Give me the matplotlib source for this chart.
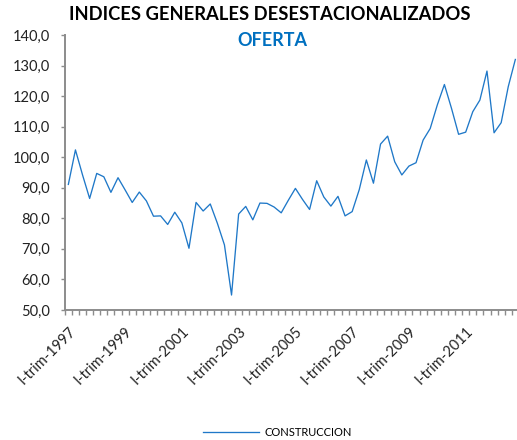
import numpy as np
import matplotlib
matplotlib.use("Agg")
import matplotlib.pyplot as plt
import matplotlib.transforms as mtransforms
from matplotlib.ticker import FuncFormatter

plt.rcParams['font.family'] = ['Lato', 'DejaVu Sans']

# --------------------------------------------
# DATOS (indice trimestral, I-trim-1997 a IV-trim-2012)
# --------------------------------------------
construccion = [
    91.1, 102.4, 94.2, 86.5, 94.7, 93.6, 88.5, 93.3,
    89.3, 85.2, 88.6, 85.7, 80.7, 80.8, 78.0, 82.0,
    78.5, 70.2, 85.2, 82.4, 84.7, 78.4, 71.3, 54.9,
    81.4, 83.9, 79.5, 85.0, 84.9, 83.7, 81.8, 85.9,
    89.8, 86.2, 82.9, 92.3, 87.0, 84.0, 87.2, 80.8,
    82.2, 89.4, 99.1, 91.5, 104.3, 106.9, 98.5, 94.2,
    97.1, 98.2, 105.6, 109.4, 117.1, 123.8, 116.0, 107.5,
    108.2, 114.9, 118.7, 128.2, 108.0, 111.3, 123.1, 132.0,
]
anio_inicio = 1997
etiquetas = ["I-trim-%d" % a for a in range(anio_inicio, 2012, 2)]
posiciones = [8 * k for k in range(len(etiquetas))]

# --------------------------------------------
# GRAFICA
# --------------------------------------------
W, H = 517, 440
fig = plt.figure(figsize=(W / 100, H / 100), dpi=100)
x0, x1 = 64.8, 518.9
y0, y1 = 310, 35
ax = fig.add_axes([x0 / W, (H - y0) / H, (x1 - x0) / W, (y0 - y1) / H])

n = len(construccion)
x = np.arange(n)
linea, = ax.plot(x, construccion, color='#1f78c8', lw=0.95, label='CONSTRUCCION')

ax.set_xlim(-0.5, n - 0.5)
ax.set_ylim(50, 140)
ax.set_yticks(np.arange(50, 141, 10))
ax.yaxis.set_major_formatter(FuncFormatter(lambda v, p: ("%.1f" % v).replace('.', ',')))

gris = '#8c8c8c'
for s in ['top', 'right']:
    ax.spines[s].set_visible(False)
for s in ['left', 'bottom']:
    ax.spines[s].set_color(gris)
    ax.spines[s].set_linewidth(1.4)

ax.tick_params(axis='y', length=3, width=1, color=gris, pad=8, labelsize=10.5,
               labelcolor='#222222')

# marcas entre categorias
ax.set_xticks(np.arange(-0.5, n, 1), minor=True)
ax.tick_params(axis='x', which='minor', length=3.5, width=1, color=gris)
ax.set_xticks(posiciones)
ax.set_xticklabels(etiquetas, rotation=45, ha='right', va='center',
                   rotation_mode='anchor', fontsize=10.5, color='#222222')
ax.tick_params(axis='x', which='major', length=0, pad=11)
desplazo = mtransforms.ScaledTranslation(5 / 100, -4 / 100, fig.dpi_scale_trans)
for lab in ax.get_xticklabels():
    lab.set_transform(lab.get_transform() + desplazo)

fig.text(0.522, 0.967, "INDICES GENERALES DESESTACIONALIZADOS", ha='center',
         va='center', fontsize=13.2, fontweight='bold', color='black')
fig.text(0.526, 0.909, "OFERTA", ha='center', va='center', fontsize=13,
         fontweight='bold', color='#0070c0')

fig.legend(handles=[linea], loc='center', bbox_to_anchor=(0.537, 0.018),
           frameon=False, fontsize=8, handlelength=5.0, handletextpad=0.5)

fig.savefig("out.png", dpi=100)
